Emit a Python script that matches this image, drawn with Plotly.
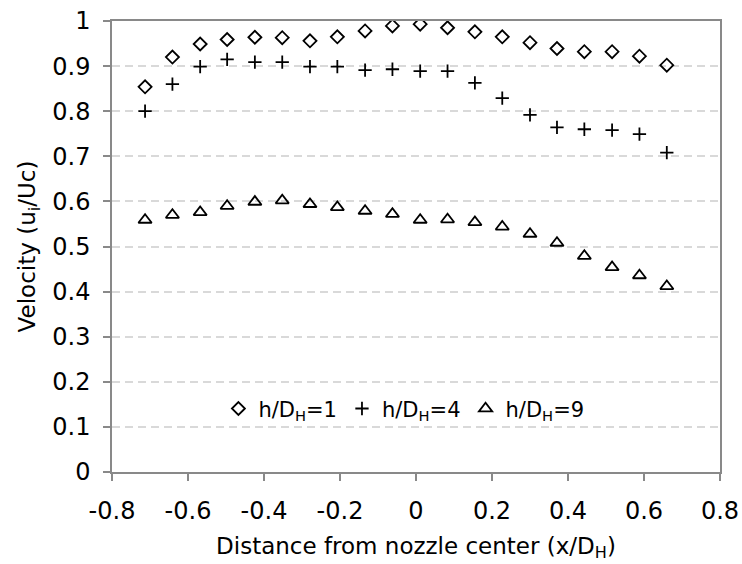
import plotly.graph_objects as go

x_pos = [-0.713, -0.641, -0.568, -0.497, -0.424, -0.352, -0.279, -0.207, -0.134, -0.062,
         0.011, 0.083, 0.155, 0.227, 0.300, 0.371, 0.443, 0.516, 0.588, 0.660]
v_h1 = [0.854, 0.920, 0.949, 0.959, 0.964, 0.963, 0.956, 0.965, 0.978, 0.989,
        0.993, 0.985, 0.976, 0.965, 0.952, 0.939, 0.932, 0.932, 0.922, 0.902]
v_h4 = [0.800, 0.860, 0.899, 0.915, 0.909, 0.909, 0.899, 0.899, 0.891, 0.893,
        0.889, 0.889, 0.863, 0.829, 0.792, 0.764, 0.760, 0.758, 0.749, 0.708]
v_h9 = [0.559, 0.570, 0.576, 0.590, 0.599, 0.602, 0.594, 0.587, 0.579, 0.572,
        0.559, 0.560, 0.554, 0.544, 0.528, 0.508, 0.479, 0.454, 0.436, 0.412]

x_tickvals = [-0.8, -0.6, -0.4, -0.2, 0, 0.2, 0.4, 0.6, 0.8]
x_ticktext = ["-0.8", "-0.6", "-0.4", "-0.2", "0", "0.2", "0.4", "0.6", "0.8"]
y_tickvals = [0, 0.1, 0.2, 0.3, 0.4, 0.5, 0.6, 0.7, 0.8, 0.9, 1]
y_ticktext = ["0", "0.1", "0.2", "0.3", "0.4", "0.5", "0.6", "0.7", "0.8", "0.9", "1"]

names = ["h/D<sub>H</sub>=1", "h/D<sub>H</sub>=4", "h/D<sub>H</sub>=9"]
FONT = "DejaVu Sans, Liberation Sans, Arial, sans-serif"

fig = go.Figure()
fig.add_trace(go.Scatter(x=x_pos, y=v_h1, mode="markers", name=names[0],
                         marker=dict(symbol="diamond-open", size=10, color="black",
                                     line=dict(width=1.8, color="black"))))
fig.add_trace(go.Scatter(x=x_pos, y=v_h4, mode="markers", name=names[1],
                         marker=dict(symbol="cross-thin", size=9.5, color="black",
                                     line=dict(width=1.8, color="black"))))
fig.add_trace(go.Scatter(x=x_pos, y=v_h9, mode="markers", name=names[2],
                         marker=dict(symbol="triangle-up-open", size=11.5, color="black",
                                     line=dict(width=1.8, color="black"))))

axis_color = "#898989"
fig.update_layout(
    width=742, height=564,
    margin=dict(l=112, r=22, t=21, b=92),
    paper_bgcolor="white", plot_bgcolor="white",
    font=dict(family=FONT, size=22, color="black"),
    showlegend=True,
    legend=dict(orientation="h", x=0.175, y=0.14, xanchor="left", yanchor="middle",
                font=dict(size=21), itemwidth=30, bgcolor="rgba(0,0,0,0)",
                tracegroupgap=0),
    xaxis=dict(range=[-0.8, 0.8], tickmode="array", tickvals=x_tickvals, ticktext=x_ticktext,
               showgrid=False, zeroline=False,
               showline=True, linecolor=axis_color, linewidth=1.5, mirror=True,
               ticks="outside", ticklen=7, tickcolor=axis_color, tickwidth=1.5,
               ticklabelstandoff=9,
               title=dict(text="Distance from nozzle center (x/D<sub>H</sub>)", standoff=14,
                          font=dict(size=23)),
               tickfont=dict(size=24), automargin=False),
    yaxis=dict(range=[0, 1], tickmode="array", tickvals=y_tickvals, ticktext=y_ticktext,
               showgrid=True, gridcolor="#d9d9d9",
               griddash="8px,5px", gridwidth=1.5, zeroline=False,
               showline=True, linecolor=axis_color, linewidth=1.5, mirror=True,
               ticks="outside", ticklen=7, tickcolor=axis_color, tickwidth=1.5,
               ticklabelstandoff=8,
               title=dict(text="Velocity (u<sub>i</sub>/Uc)", standoff=10,
                          font=dict(size=23)),
               tickfont=dict(size=24), automargin=False),
)

fig.write_html("out.html")
